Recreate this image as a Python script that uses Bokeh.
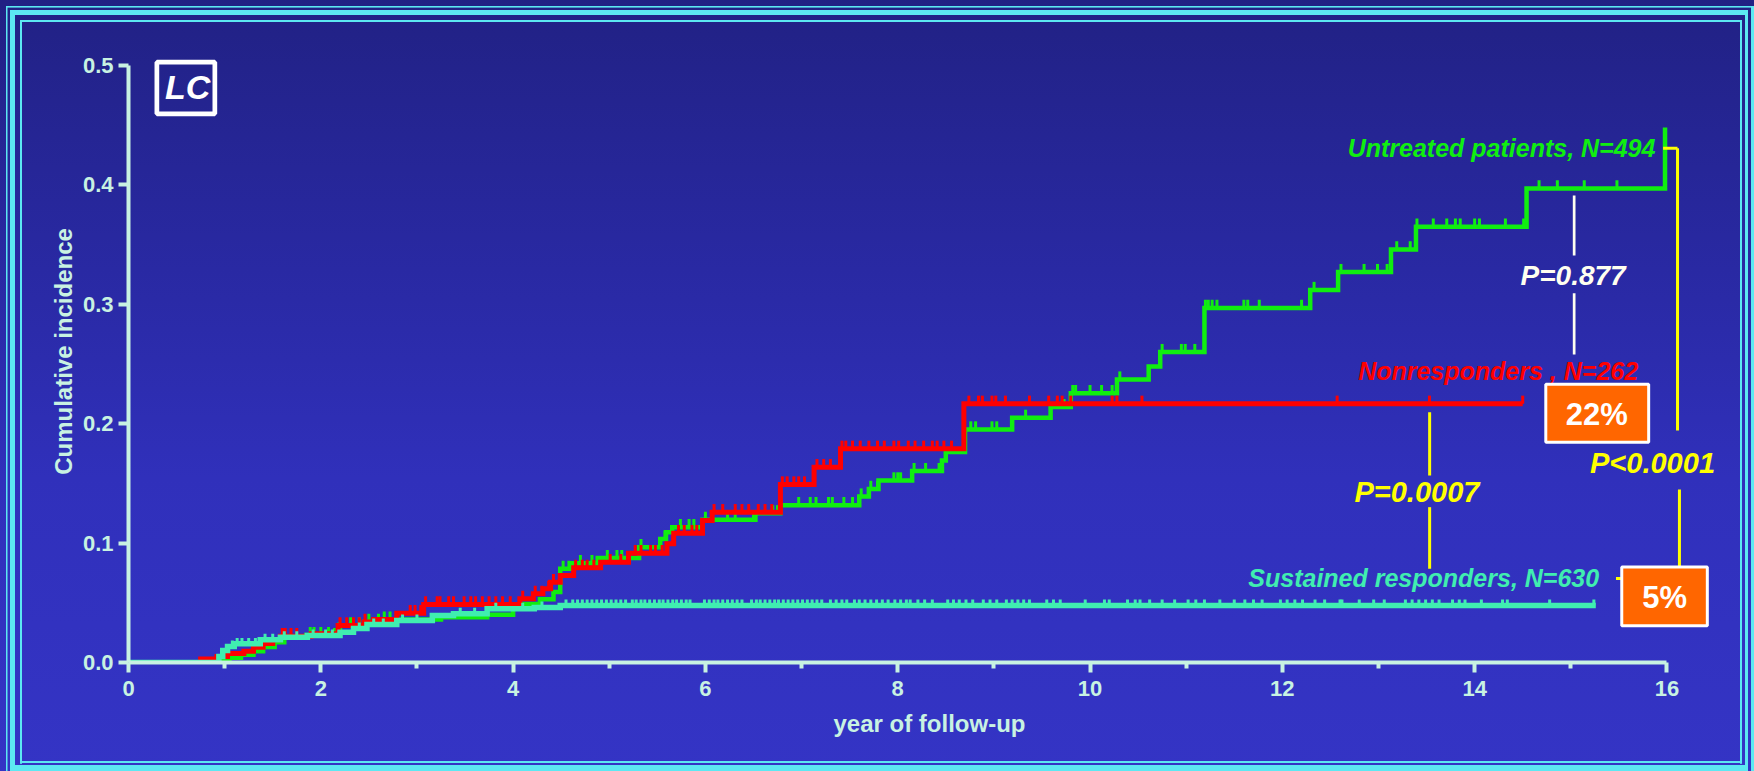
import numpy as np
from bokeh.plotting import figure
from bokeh.models import Range1d, FixedTicker, PrintfTickFormatter, InlineStyleSheet
from bokeh.core.properties import value
from bokeh.embed import file_html
from bokeh.resources import INLINE

# ---------------- data ----------------
untreated_t = [0.0, 0.96, 1.05, 1.17, 1.30, 1.40, 1.52, 1.62, 1.85, 2.15, 2.20, 2.45, 2.62, 3.25,
               3.73, 4.00, 4.08, 4.28, 4.42, 4.49, 4.60, 4.88, 5.31, 5.53, 5.59, 5.655, 5.97, 6.52,
               6.78, 7.60, 7.70, 7.80, 8.15, 8.46, 8.50, 8.70, 9.19, 9.59, 9.80, 10.28, 10.61, 10.73,
               11.19, 12.29, 12.58, 13.13, 13.39, 14.54, 15.98]
untreated_v = [0.0, 0.002, 0.004, 0.0065, 0.0095, 0.013, 0.017, 0.021, 0.023, 0.027, 0.031, 0.034,
               0.036, 0.038, 0.040, 0.045, 0.049, 0.053, 0.059, 0.0785, 0.0832, 0.0875, 0.0966,
               0.1035, 0.109, 0.1133, 0.1195, 0.125, 0.1318, 0.139, 0.1454, 0.1525, 0.1603, 0.1692,
               0.1762, 0.1952, 0.2049, 0.2139, 0.2256, 0.237, 0.248, 0.260, 0.297, 0.312, 0.327,
               0.346, 0.365, 0.397, 0.448]
untreated_censor = [1.58, 1.89, 1.93, 2.00, 2.08, 2.19, 2.31, 2.40, 2.50, 2.60, 2.66, 2.72, 4.52, 4.58,
                    4.70, 4.82, 4.98, 5.08, 5.13, 5.33, 5.58, 5.74, 5.83, 5.88, 6.00, 6.23, 6.31, 6.50,
                    6.70, 6.75, 6.97, 7.09, 7.15, 7.28, 7.32, 7.44, 7.53, 7.62, 7.72, 7.79, 7.96, 8.00,
                    8.03, 8.17, 8.29, 8.43, 8.76, 8.81, 8.98, 9.03, 9.33, 9.73, 9.82, 9.85, 10.0, 10.12,
                    10.23, 10.31, 10.75, 10.95, 10.99, 11.09, 11.20, 11.23, 11.27, 11.32, 11.60, 11.64,
                    11.76, 12.20, 12.33, 12.61, 12.85, 12.99, 13.09, 13.19, 13.33, 13.40, 13.57, 13.71,
                    13.80, 13.85, 14.00, 14.05, 14.32, 14.51, 14.67, 14.86, 15.14, 15.48]

nonresp_t = [0.0, 0.75, 0.92, 1.03, 1.20, 1.30, 1.40, 1.50, 1.58, 1.90, 2.18, 2.45, 2.55, 2.79, 3.07,
             4.07, 4.21, 4.31, 4.39, 4.49, 4.63, 4.91, 5.20, 5.60, 5.67, 5.97, 6.07, 6.78, 7.13,
             7.405, 8.688, 14.50]
nonresp_v = [0.0, 0.003, 0.005, 0.0075, 0.0095, 0.0128, 0.016, 0.019, 0.022, 0.024, 0.031, 0.034,
             0.036, 0.0413, 0.0486, 0.0533, 0.0575, 0.0617, 0.0673, 0.0729, 0.0793, 0.084, 0.0916,
             0.0994, 0.1083, 0.1189, 0.1259, 0.1491, 0.1636, 0.179, 0.2167, 0.2167]
nonresp_censor = [1.60, 1.63, 1.69, 1.75, 2.20, 2.27, 2.34, 2.40, 2.46, 2.93, 2.98, 3.04, 3.09, 3.21,
                  3.24, 3.33, 3.38, 3.49, 3.56, 3.61, 3.68, 3.75, 3.82, 3.89, 3.97, 4.10, 4.23, 4.30,
                  4.37, 4.42, 4.65, 4.72, 4.77, 4.84, 5.01, 5.12, 5.27, 5.33, 5.43, 5.48, 5.55, 5.72,
                  5.78, 5.86, 5.91, 6.09, 6.18, 6.31, 6.38, 6.45, 6.55, 6.62, 6.69, 6.80, 6.85, 6.92,
                  6.97, 7.03, 7.16, 7.23, 7.30, 7.42, 7.46, 7.53, 7.61, 7.70, 7.79, 7.86, 7.96, 8.01,
                  8.11, 8.18, 8.27, 8.36, 8.41, 8.48, 8.56, 8.74, 8.84, 8.88, 8.98, 9.02, 9.12, 9.37,
                  9.57, 9.66, 9.71, 9.80, 10.23, 10.28, 10.54, 12.57, 13.53, 14.50]

sustained_t = [0.0, 0.94, 0.98, 1.03, 1.10, 1.37, 1.58, 1.86, 2.20, 2.34, 2.48, 2.79, 3.16, 3.38,
               3.73, 4.22, 4.49, 15.26]
sustained_v = [0.0, 0.005, 0.010, 0.0135, 0.0156, 0.019, 0.0212, 0.0226, 0.0254, 0.0285, 0.0318,
               0.0352, 0.0394, 0.0408, 0.045, 0.046, 0.0477, 0.0477]
sustained_censor = [1.08, 1.13, 1.18, 1.25, 1.32, 1.42, 1.50, 1.62, 1.75, 1.92, 2.05, 2.12, 2.40, 2.55,
                    2.65, 2.85, 3.00, 3.45, 3.60, 3.82, 4.10, 4.30, 4.55, 4.62, 4.67, 4.72, 4.77, 4.82,
                    4.87, 4.92, 4.97, 5.02, 5.07, 5.12, 5.17, 5.24, 5.28, 5.33, 5.37, 5.42, 5.47, 5.52,
                    5.56, 5.61, 5.66, 5.70, 5.75, 5.80, 5.84, 5.99, 6.04, 6.09, 6.13, 6.18, 6.23, 6.28,
                    6.33, 6.38, 6.48, 6.53, 6.57, 6.62, 6.67, 6.72, 6.76, 6.81, 6.86, 6.91, 6.96, 7.01,
                    7.06, 7.11, 7.16, 7.21, 7.30, 7.36, 7.42, 7.47, 7.55, 7.60, 7.66, 7.72, 7.78, 7.84,
                    7.90, 7.97, 8.03, 8.09, 8.13, 8.21, 8.28, 8.36, 8.52, 8.58, 8.64, 8.71, 8.78, 8.89,
                    8.96, 9.03, 9.13, 9.19, 9.25, 9.31, 9.37, 9.55, 9.62, 9.69, 9.95, 10.15, 10.20,
                    10.39, 10.47, 10.52, 10.62, 10.75, 10.88, 11.02, 11.10, 11.19, 11.35, 11.50, 11.61,
                    11.70, 11.79, 11.98, 12.05, 12.13, 12.21, 12.34, 12.44, 12.60, 12.62, 12.80, 12.95,
                    13.06, 13.28, 13.35, 13.42, 13.49, 13.56, 13.63, 13.77, 13.84, 13.90, 14.07, 14.29,
                    14.34, 14.78, 15.24]

x_ticks = [0, 2, 4, 6, 8, 10, 12, 14, 16]
x_minor_ticks = [1, 3, 5, 7, 9, 11, 13, 15]
y_ticks = [0.0, 0.1, 0.2, 0.3, 0.4, 0.5]

series_names = ["Untreated patients, N=494", "Nonresponders , N=262", "Sustained responders, N=630"]
p_value_texts = ["P=0.877", "P=0.0007", "P<0.0001"]
percent_texts = ["22%", "5%"]
panel_tag = "LC"
x_title = "year of follow-up"
y_title = "Cumulative incidence"

# ---------------- styling ----------------
GREEN = "#10ee10"
RED = "#ff0000"
AQUA = "#40eeb0"
YELLOW = "#ffff00"
CREAM = "#fffff0"
ORANGE = "#ff6600"
AXIS = "#c8f2e2"
FONT = "Liberation Sans"
CYAN = "#5ce8f2"

W, H = 1754, 771

# decorative slide frame: three cyan rectangles drawn as background strips
strips = [
    # outer thin line
    (6, 5.8, 1748, 1.6), (6, 5.8, 1.5, 765.2), (1750.7, 5.8, 3.3, 765.2),
    # middle band
    (10, 10, 1738.3, 5), (10, 765, 1738.3, 6), (10, 10, 5, 761), (1745, 10, 3.3, 761),
    # inner thin line
    (19.5, 19.5, 1722, 2.2), (19.5, 761, 1722, 2.3), (19.5, 19.5, 2, 743.8), (1739.5, 19.5, 2.2, 743.8),
]
layers = [f"linear-gradient({CYAN},{CYAN}) {x}px {y}px / {w}px {h}px no-repeat" for (x, y, w, h) in strips]
layers.append("linear-gradient(180deg, #212184 0%, #2929a3 35%, #3030bb 62%, #3434c5 100%)")
css = ":host { background: " + ", ".join(layers) + "; }"

p = figure(width=W, height=H, output_backend="svg", toolbar_location=None,
           x_range=Range1d(0, 16.661), y_range=Range1d(0, 0.52094),
           min_border_left=128, min_border_right=24, min_border_top=40, min_border_bottom=109,
           background_fill_alpha=0, border_fill_alpha=0, outline_line_color=None,
           stylesheets=[InlineStyleSheet(css=css)])
p.grid.visible = False

for ax in (p.xaxis[0], p.yaxis[0]):
    ax.axis_line_color = AXIS
    ax.axis_line_width = 4
    ax.major_tick_line_color = AXIS
    ax.major_tick_line_width = 4
    ax.minor_tick_line_color = AXIS
    ax.minor_tick_line_width = 4
    ax.major_tick_in = 0
    ax.minor_tick_in = 0
    ax.major_label_text_color = AXIS
    ax.major_label_text_font = FONT
    ax.major_label_text_font_style = "bold"
    ax.major_label_text_font_size = "22px"
    ax.axis_label_text_color = AXIS
    ax.axis_label_text_font = FONT
    ax.axis_label_text_font_style = "bold"
    ax.axis_label_text_font_size = "24px"

xa = p.xaxis[0]
xa.ticker = FixedTicker(ticks=x_ticks, minor_ticks=x_minor_ticks)
xa.bounds = (0, 16)
xa.major_tick_out = 10
xa.minor_tick_out = 6
xa.major_label_standoff = 8
xa.axis_label = x_title
xa.axis_label_standoff = 11

ya = p.yaxis[0]
ya.ticker = FixedTicker(ticks=y_ticks, minor_ticks=[])
ya.bounds = (0, 0.5)
ya.formatter = PrintfTickFormatter(format="%.1f")
ya.major_tick_out = 10
ya.minor_tick_out = 0
ya.major_label_standoff = 5
ya.axis_label = y_title
ya.axis_label_standoff = 3


def level_at(ts, vs, t):
    ts = np.asarray(ts)
    vs = np.asarray(vs)
    idx = np.searchsorted(ts, np.asarray(t), side="right") - 1
    return vs[np.clip(idx, 0, len(vs) - 1)]


def draw_curve(ts, vs, censor, color, width, tick_len):
    p.step(ts, vs, mode="after", line_color=color, line_width=width, line_join="miter")
    cy = level_at(ts, vs, censor)
    p.segment(x0=censor, y0=cy, x1=censor, y1=cy + tick_len, line_color=color, line_width=3)


draw_curve(untreated_t, untreated_v, untreated_censor, GREEN, 4.5, 0.0068)
draw_curve(nonresp_t, nonresp_v, nonresp_censor, RED, 5, 0.0068)
draw_curve(sustained_t, sustained_v, sustained_censor, AQUA, 5.5, 0.0050)

# comparison brackets
p.segment(x0=[15.035, 15.035], y0=[0.3911, 0.3093], x1=[15.035, 15.035], y1=[0.3409, 0.2580],
          line_color=CREAM, line_width=2.7)
p.segment(x0=[13.532, 13.532], y0=[0.2096, 0.1301], x1=[13.532, 13.532], y1=[0.1566, 0.0785],
          line_color=YELLOW, line_width=3)
p.segment(x0=[15.96, 16.11, 16.13, 15.47], y0=[0.4307, 0.4307, 0.1449, 0.0704],
          x1=[16.11, 16.11, 16.13, 16.13], y1=[0.4307, 0.1943, 0.0704, 0.0704],
          line_color=YELLOW, line_width=3)

# series names (y = vertical centre of the capitals)
name_style = dict(text_font=value(FONT), text_font_style="bold italic", text_font_size="25px",
                  text_align="right", text_baseline="middle")
p.text(x=[15.88], y=[0.4309], text=[series_names[0]], text_color=GREEN, **name_style)
p.text(x=[15.70], y=[0.2439], text=[series_names[1]], text_color=RED, **name_style)
p.text(x=[15.295], y=[0.0708], text=[series_names[2]], text_color=AQUA, **name_style)

# p-values
pv_style = dict(text_font=value(FONT), text_font_style="bold italic", text_align="center",
                text_baseline="middle")
p.text(x=[15.024], y=[0.3238], text=[p_value_texts[0]], text_color=CREAM, text_font_size="28px", **pv_style)
p.text(x=[13.40, 15.85], y=[0.1431, 0.1668], text=p_value_texts[1:], text_color=YELLOW,
       text_font_size="29px", **pv_style)

# percentage boxes
p.quad(left=[14.74, 15.53], right=[15.81, 16.42], top=[0.2330, 0.0800], bottom=[0.1844, 0.0308],
       fill_color=ORANGE, line_color="white", line_width=3)
p.text(x=[15.27, 15.975], y=[0.2076, 0.0547], text=percent_texts, text_color="white",
       text_font=value(FONT), text_font_style="bold", text_font_size="31px",
       text_align="center", text_baseline="middle")

# LC tag
p.quad(left=[0.295], right=[0.898], top=[0.5028], bottom=[0.4595], fill_alpha=0,
       line_color="white", line_width=4.7)
p.text(x=[0.615], y=[0.4820], text=[panel_tag], text_color="white", text_font=value(FONT),
       text_font_style="bold italic", text_font_size="34px", text_align="center",
       text_baseline="middle")

open("out.html", "w").write(file_html(p, INLINE))
